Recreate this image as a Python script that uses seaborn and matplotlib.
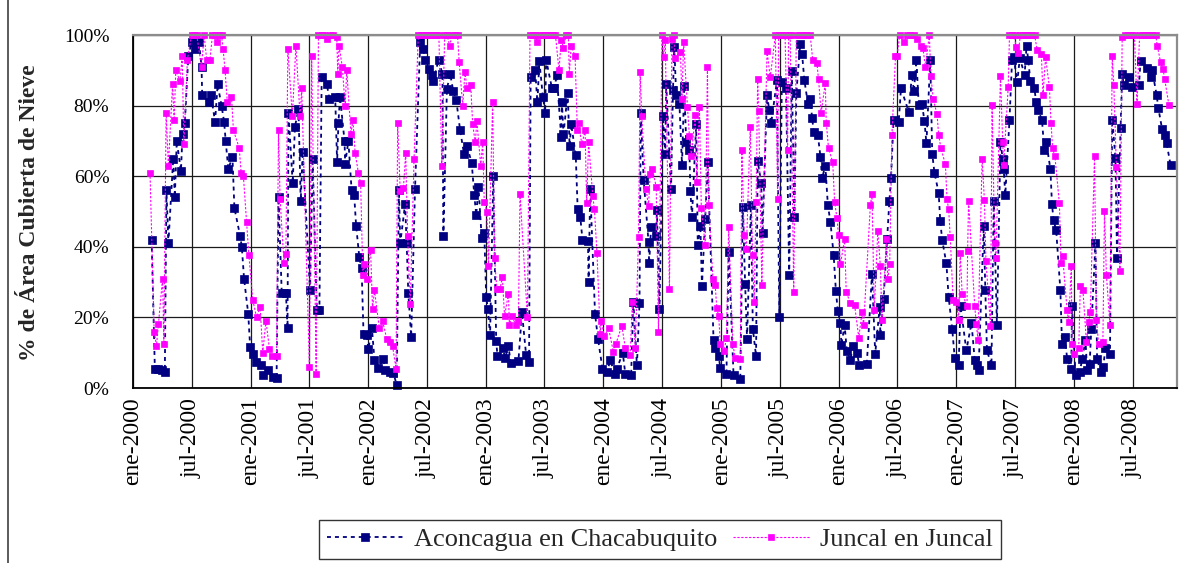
import matplotlib
matplotlib.use('Agg')
import matplotlib.pyplot as plt
from matplotlib.lines import Line2D
import seaborn as sns
import pandas as pd

# dias desde 2000-01-01 y % de area cubierta de nieve
inicio = pd.Timestamp('2000-01-01')
fin = pd.Timestamp('2008-11-16')

aconcagua_dia = [
    58, 68, 79, 89, 99, 104, 110, 125, 130, 136, 149, 154, 161, 172, 182, 192, 205, 213, 215, 236,
    242, 255, 263, 275, 283, 288, 296, 309, 315, 333, 338, 345, 358, 364, 374, 382, 398, 405, 418, 434,
    446, 452, 462, 475, 480, 483, 496, 503, 514, 521, 527, 550, 558, 571, 579, 586, 602, 610, 628, 634,
    638, 643, 657, 659, 669, 679, 687, 693, 703, 710, 716, 726, 731, 742, 750, 762, 778, 783, 798, 809,
    819, 826, 830, 845, 850, 855, 864, 876, 892, 902, 907, 918, 928, 933, 949, 961, 964, 975, 985, 995,
    1004, 1016, 1028, 1037, 1052, 1060, 1066, 1073, 1083, 1091, 1097, 1102, 1109, 1119, 1128, 1132, 1148, 1156, 1166, 1173,
    1197, 1208, 1221, 1230, 1235, 1249, 1256, 1262, 1273, 1280, 1283, 1301, 1309, 1316, 1330, 1332, 1337, 1350, 1356, 1361,
    1375, 1381, 1389, 1396, 1413, 1415, 1420, 1435, 1444, 1458, 1472, 1482, 1497, 1503, 1521, 1529, 1547, 1554, 1565, 1573,
    1577, 1586, 1601, 1603, 1609, 1625, 1627, 1635, 1646, 1653, 1656, 1671, 1677, 1681, 1687, 1697, 1705, 1712, 1718, 1728,
    1731, 1736, 1749, 1754, 1762, 1767, 1777, 1785, 1803, 1808, 1819, 1824, 1843, 1850, 1865, 1886, 1894, 1901, 1907, 1919,
    1925, 1935, 1940, 1951, 1955, 1969, 1976, 1982, 2000, 2007, 2015, 2028, 2038, 2046, 2054, 2060, 2072, 2078, 2085, 2096,
    2103, 2109, 2114, 2127, 2135, 2140, 2150, 2158, 2166, 2176, 2183, 2189, 2197, 2200, 2210, 2217, 2228, 2236, 2248, 2256,
    2279, 2295, 2305, 2319, 2321, 2331, 2342, 2349, 2354, 2362, 2378, 2385, 2409, 2419, 2425, 2433, 2440, 2450, 2458, 2464,
    2476, 2482, 2489, 2502, 2507, 2513, 2526, 2533, 2544, 2552, 2564, 2570, 2588, 2604, 2614, 2621, 2626, 2642, 2647, 2652,
    2666, 2673, 2683, 2694, 2701, 2704, 2709, 2722, 2730, 2735, 2746, 2754, 2769, 2775, 2780, 2787, 2799, 2805, 2811, 2823,
    2830, 2836, 2849, 2854, 2859, 2867, 2880, 2885, 2894, 2901, 2914, 2916, 2927, 2940, 2948, 2958, 2963, 2971, 2976, 2989,
    2994, 3005, 3013, 3020, 3034, 3041, 3051, 3056, 3067, 3072, 3077, 3093, 3103, 3124, 3129, 3148, 3160, 3165, 3179, 3184,
    3196, 3205, 3210, 3222,
]
aconcagua_pct = [
    42, 5.5, 5.5, 5, 4.5, 56, 41, 65, 54, 70, 61.5, 72, 75, 94, 98, 96, 98, 91, 83, 81,
    83, 75.5, 86, 80, 75.5, 70, 62, 65.5, 51, 43, 40, 31, 21, 11.6, 9.7, 7.4, 6.6, 3.6, 5, 3,
    2.8, 54, 27, 27, 17, 78, 58, 74, 79, 53, 67, 27.7, 65, 22, 22, 88, 86, 82, 82.5, 64,
    75, 82.5, 70, 63.6, 70, 56, 54.6, 46, 37, 34, 15.4, 15, 11, 17, 8, 5.7, 8.3, 5, 4.5, 4.3,
    0.8, 56, 41, 52, 41, 27, 14.5, 56.5, 98, 96, 93, 90.5, 88.7, 87, 93, 89, 43, 84.7, 89, 84,
    81.6, 73, 66.4, 68.6, 63.8, 54.6, 49, 57, 42.5, 44, 25.8, 22.5, 15, 60, 13.3, 9, 11.4, 8.5, 12, 7,
    7.6, 21.4, 9.3, 7.4, 88, 90, 81, 92.6, 82.5, 78, 93, 85, 85, 88.7, 71, 81, 72, 83.5, 68.6, 74.7,
    66, 50.7, 48.5, 42, 41.6, 30, 56.3, 21, 14, 5.5, 4.5, 7.8, 4, 5.5, 10, 4, 3.6, 24.4, 6.4, 24,
    78, 59, 41.4, 35.3, 45.5, 43, 50.4, 22.5, 77, 66.4, 86, 56.5, 84.4, 96.7, 83, 80.5, 63.3, 85.5, 69.6, 67.4,
    55.9, 48.5, 74.7, 40.5, 46, 29, 48, 64, 13.5, 11.2, 9, 5.7, 4, 38.6, 3.8, 2.5, 51.3, 29.6, 14, 51.8,
    16.8, 9, 64.3, 58.2, 43.8, 83, 78.7, 75, 87.2, 20, 86.8, 85, 32, 89.8, 48.5, 83.5, 97.4, 94.5, 87.2, 80.6,
    82, 76.6, 72.6, 71.6, 65.5, 59.4, 63, 51.8, 47, 37.6, 27.4, 21.7, 18.5, 12.3, 17.8, 10.4, 8, 11.8, 10, 6.4,
    6.9, 32.4, 9.7, 23, 15.1, 25.3, 42.3, 53, 59.4, 75.9, 75.4, 84.9, 78.3, 88.8, 84, 93, 80.3, 80.6, 75.6, 69.3,
    93, 66.4, 61, 55.3, 47.3, 41.9, 35.3, 25.8, 16.8, 8.5, 6.4, 23.2, 10.7, 18.4, 8, 6.6, 5.2, 46, 27.7, 10.7,
    6.4, 53, 17.8, 69.6, 65, 62, 54.8, 76, 93, 93.7, 86.6, 93.4, 88.8, 97, 93, 87, 85, 81, 78.7, 75.9,
    67.4, 69.8, 62, 52, 47.5, 44.7, 27.7, 12.6, 14.5, 8.3, 5.5, 23.2, 3.8, 4.5, 8.3, 13.5, 5, 6.9, 16.8, 41,
    8.3, 4.5, 6, 11.2, 9.7, 76, 65.2, 36.9, 73.7, 89, 85.8, 88.2, 85.3, 85.8, 92.6, 90.7, 88.2, 90, 83, 79.4,
    73.3, 71.8, 69.3, 63.3,
]

juncal_dia = [
    53, 66, 73, 79, 92, 96, 103, 110, 123, 128, 133, 146, 153, 158, 169, 182, 190, 198, 213, 221,
    229, 239, 247, 255, 260, 268, 275, 280, 286, 293, 306, 312, 330, 336, 343, 353, 360, 372, 384, 395,
    403, 413, 424, 431, 446, 452, 457, 469, 475, 481, 495, 506, 519, 524, 548, 555, 569, 576, 586, 594,
    602, 612, 622, 633, 636, 640, 650, 659, 664, 677, 683, 690, 700, 707, 714, 719, 726, 738, 744, 750,
    765, 775, 788, 798, 806, 817, 822, 830, 840, 847, 853, 861, 873, 886, 894, 902, 910, 918, 926, 934,
    942, 950, 959, 968, 976, 983, 992, 1000, 1008, 1013, 1024, 1031, 1037, 1049, 1055, 1063, 1068, 1080, 1086, 1091,
    1099, 1104, 1117, 1123, 1130, 1140, 1147, 1154, 1166, 1169, 1176, 1190, 1197, 1202, 1225, 1233, 1241, 1249, 1256, 1264,
    1272, 1280, 1288, 1296, 1304, 1312, 1323, 1330, 1337, 1345, 1352, 1355, 1361, 1373, 1380, 1384, 1394, 1404, 1409, 1415,
    1428, 1433, 1441, 1451, 1454, 1464, 1477, 1492, 1500, 1518, 1529, 1544, 1551, 1560, 1570, 1575, 1580, 1593, 1601, 1606,
    1613, 1625, 1632, 1643, 1648, 1653, 1666, 1674, 1679, 1684, 1700, 1705, 1710, 1722, 1728, 1734, 1746, 1751, 1759, 1765,
    1777, 1784, 1788, 1801, 1808, 1813, 1819, 1824, 1836, 1843, 1850, 1863, 1870, 1886, 1891, 1898, 1905, 1917, 1924, 1929,
    1935, 1940, 1943, 1953, 1969, 1979, 1995, 2002, 2005, 2015, 2025, 2033, 2036, 2041, 2052, 2060, 2070, 2080, 2090, 2103,
    2111, 2124, 2129, 2137, 2150, 2153, 2160, 2173, 2179, 2186, 2191, 2197, 2210, 2215, 2228, 2241, 2254, 2264, 2269, 2290,
    2295, 2302, 2313, 2321, 2326, 2340, 2344, 2350, 2357, 2368, 2373, 2381, 2394, 2404, 2414, 2425, 2435, 2447, 2453, 2461,
    2473, 2478, 2485, 2497, 2502, 2509, 2523, 2528, 2533, 2538, 2547, 2557, 2564, 2569, 2575, 2590, 2592, 2595, 2614, 2619,
    2624, 2637, 2644, 2649, 2663, 2668, 2676, 2680, 2694, 2701, 2704, 2718, 2722, 2730, 2738, 2742, 2749, 2756, 2764, 2772,
    2780, 2790, 2800, 2808, 2821, 2826, 2834, 2846, 2851, 2856, 2863, 2877, 2882, 2887, 2901, 2906, 2914, 2916, 2922, 2937,
    2942, 2950, 2961, 2968, 2973, 2986, 2992, 2999, 3012, 3017, 3023, 3034, 3041, 3046, 3054, 3065, 3072, 3080, 3090, 3100,
    3110, 3118, 3126, 3136, 3146, 3156, 3166, 3176, 3181, 3191, 3199, 3204, 3217,
]
juncal_pct = [
    61, 16, 12, 18, 31, 12.5, 78, 63, 86, 76, 90, 87, 94, 69, 93, 100, 100, 100, 91, 100,
    93, 93, 100, 100, 98, 100, 100, 96, 90, 81, 82.5, 73, 68, 61, 60, 47, 37.6, 25, 20, 23,
    10, 19, 11, 9, 9, 73, 53.5, 35.5, 38, 96, 77, 97, 77, 85, 6, 94, 4, 100, 100, 100,
    99, 100, 100, 99.5, 89, 97, 91, 80, 90, 72, 76, 66.6, 61, 58, 32, 35, 31, 39, 22.5, 27.7,
    17, 19, 14, 13, 12, 5.5, 75, 55.7, 56.7, 66.7, 43, 23.7, 65, 100, 100, 100, 100, 100, 100, 100,
    100, 100, 63, 100, 100, 97, 100, 100, 100, 92.4, 80, 89.6, 85, 85.7, 74.7, 69.6, 75.6, 63, 69.6, 52.7,
    50, 34.6, 81, 36.7, 28, 28, 31.5, 20.4, 26.7, 17.8, 20.4, 17.8, 19, 55, 20, 100, 100, 100, 98, 100,
    100, 100, 100, 100, 100, 100, 90, 98.6, 96.4, 100, 100, 89, 97, 94, 73, 75, 69, 73, 52.3, 69.6,
    54.4, 50.6, 38.3, 15.4, 19, 14.7, 17, 10.2, 12.6, 17.6, 11.4, 9.3, 24.4, 11.4, 42.7, 89.6, 77, 56.5, 51.6, 60.5,
    62, 57, 16, 100, 93.7, 98.6, 28, 99, 100, 93.6, 95.3, 82, 98, 79.7, 71.4, 65.8, 77.3, 58.4, 79.7, 50.9,
    40.5, 91, 51.8, 31, 29.3, 22.7, 20.4, 12.6, 10.4, 14.3, 45.7, 12.6, 8.5, 8.3, 67.4, 43.3, 39.5, 74, 37.6, 24.4,
    52.7, 87.5, 78.4, 29.3, 95.5, 88, 100, 53.5, 100, 100, 100, 67.4, 100, 100, 27.2, 100, 100, 100, 100, 100,
    93, 92, 87.5, 78, 86.3, 75.2, 68, 64, 52.7, 48.3, 43.3, 35, 42.2, 27.2, 24, 23.5, 14.3, 21.4, 17.8, 51.8,
    55, 22, 44.4, 34.6, 19.4, 42.2, 31, 35, 71.8, 94, 94, 100, 98, 100, 100, 100, 99, 97, 96.4, 91,
    100, 88.5, 82, 77.5, 71.8, 67.9, 63.4, 53.5, 50.7, 42.8, 24.9, 24.4, 19.2, 38.3, 26.7, 23.3, 38.8, 53, 23.2, 18.2,
    13.7, 65, 53.4, 36, 17.5, 80.2, 41.2, 36.7, 88.5, 69.6, 63.3, 85.2, 100, 100, 100, 96.7, 95, 100, 100, 100,
    100, 100, 100, 95.7, 94.6, 83, 93.7, 85.2, 75, 67.9, 65.7, 52.3, 35.4, 37.4, 22, 18.7, 34.6, 12.6, 9.7, 11.2,
    28.8, 27.7, 13, 18.7, 21.5, 65.7, 19.2, 12.6, 13, 50.2, 32, 17.8, 94, 85.8, 62.7, 33.2, 99.5, 100, 100, 100,
    100, 80.6, 100, 100, 100, 100, 100, 100, 97, 92.4, 90.4, 87.5, 80.2,
]

series = ['Aconcagua en Chacabuquito', 'Juncal en Juncal']
meses = {1: 'ene', 7: 'jul'}
y_ticks = [0, 20, 40, 60, 80, 100]


def a_tabla(dias, pct):
    df = pd.DataFrame({'dia': dias, 'pct': pct})
    df['fecha'] = inicio + pd.to_timedelta(df['dia'], unit='D')
    return df.sort_values('fecha')


aco = a_tabla(aconcagua_dia, aconcagua_pct)
jun = a_tabla(juncal_dia, juncal_pct)

sns.set_style('white')
plt.rcParams['font.family'] = ['Liberation Serif', 'DejaVu Serif']

fig = plt.figure(figsize=(11.85, 5.63), dpi=100)
ax = fig.add_axes([0.1122, 0.3108, 0.881, 0.627])

sns.lineplot(data=aco, x='fecha', y='pct', ax=ax, estimator=None, sort=True,
             color='#000080', linestyle=(0, (2.2, 2.2)), linewidth=1.3,
             marker='s', markersize=5.6, markerfacecolor='#000080',
             markeredgecolor='#000080', markeredgewidth=0.5, clip_on=False,
             label=series[0])
sns.lineplot(data=jun, x='fecha', y='pct', ax=ax, estimator=None, sort=True,
             color='#FF00FF', linestyle=(0, (2, 1.5)), linewidth=0.8,
             marker='s', markersize=4.8, markerfacecolor='#FF00FF',
             markeredgecolor='#FF00FF', markeredgewidth=0.5, clip_on=False,
             label=series[1])

ticks = pd.date_range('2000-01-01', '2008-07-01', freq='6MS')
ax.set_xticks(ticks)
ax.set_xticklabels([f'{meses[t.month]}-{t.year}' for t in ticks], rotation=90, fontsize=17)
ax.set_xlim(inicio, fin)
ax.set_ylim(0, 100)
ax.set_yticks(y_ticks)
ax.set_yticklabels([f'{v}%' for v in y_ticks], fontsize=14)
ax.set_xlabel('')
ax.set_ylabel('')

ax.grid(True, color='#1a1a1a', linewidth=0.9)
ax.set_axisbelow(True)
for s in ['left', 'bottom']:
    ax.spines[s].set_color('black')
    ax.spines[s].set_linewidth(1.3)
for s in ['top', 'right']:
    ax.spines[s].set_color('#8c8c8c')
    ax.spines[s].set_linewidth(1.6)
ax.tick_params(axis='x', direction='inout', length=8, width=1, pad=3, colors='black')
ax.tick_params(axis='y', direction='out', length=5, width=1, pad=12, colors='black')

fig.text(30 / 1185, 1 - 213 / 563, '% de Área Cubierta de Nieve', rotation=90,
         ha='center', va='center', fontsize=17, fontweight='bold')

leg = ax.legend(loc='center', bbox_to_anchor=(0.557, 0.042), bbox_transform=fig.transFigure,
                ncol=2, fontsize=19, frameon=True, fancybox=False, handlelength=2.9,
                handletextpad=0.4, columnspacing=0.6, borderpad=0.3, borderaxespad=0)
leg.get_frame().set_edgecolor('black')
leg.get_frame().set_linewidth(1.0)

fig.add_artist(Line2D([8 / 1185, 8 / 1185], [0, 1], color='#404040', linewidth=1.2))

fig.savefig('out.png', dpi=100)
plt.close(fig)
